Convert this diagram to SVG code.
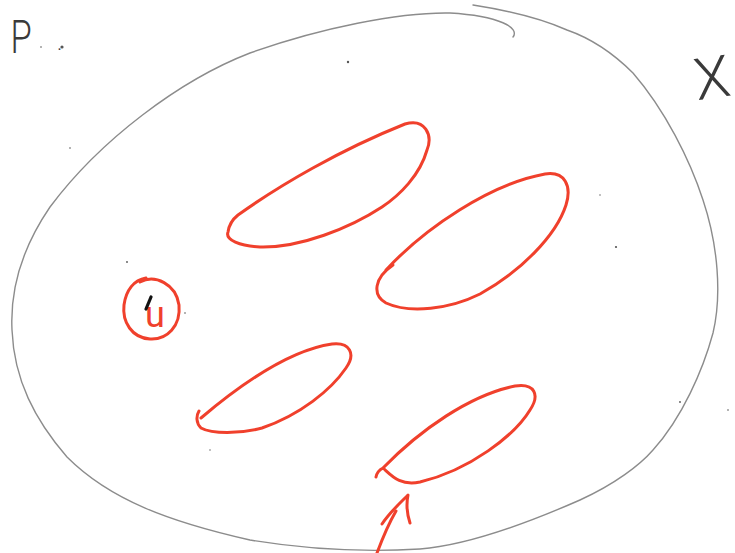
<svg xmlns="http://www.w3.org/2000/svg" width="735" height="553" viewBox="0 0 735 553">
  <style>
    .pencil { fill: none; stroke: #8c8c8c; stroke-width: 1.4; stroke-linecap: round; stroke-linejoin: round; }
    .red { fill: none; stroke: #f0402c; stroke-width: 3; stroke-linecap: round; stroke-linejoin: round; }
    .ink { font-family: Roboto, "Open Sans", "Liberation Sans", sans-serif; font-weight: 300; fill: #3a3a3a; }
    .speck { fill: #555; }
  </style>
  <rect width="735" height="553" fill="#ffffff"/>

  <g id="set-X">
    <path class="pencil" d="M513,37 C520,28 500,16 450,13 C400,12 320,28 250,53 C180,80 100,140 50,207 C22,248 10,290 12,330 C14,380 35,420 67,457 C110,500 170,522 250,540 C310,550 370,552 420,549 C470,545 530,522 580,500 C615,484 640,465 653,450 C682,418 703,370 713,333 C722,295 718,245 703,200 C690,160 665,110 633,73 C612,52 590,38 567,30 C540,18 505,10 473,5"/>
  </g>

  <g id="label-P">
    <text class="ink" x="10" y="53" font-size="46" transform="translate(3,0) scale(0.75,1)">P</text>
    <text class="ink" x="57" y="50" font-size="22">.</text>
  </g>

  <g id="label-X">
    <text class="ink" x="712" y="98" font-size="58" text-anchor="middle" transform="rotate(-8 712 78)">X</text>
  </g>

  <g id="point-u">
    <path class="red" d="M140,282 C155,274 176,284 179,305 C181,326 167,340 150,339 C132,338 122,322 124,305 C126,290 134,280 146,278"/>
    <text x="155" y="327" font-size="36" text-anchor="middle" font-family="Roboto, 'Liberation Sans', sans-serif" font-weight="400" fill="#f0402c">u</text>
    <path d="M151,297 L146,309" stroke="#111" stroke-width="3.2" stroke-linecap="round"/>
  </g>

  <g id="blob-1">
    <path class="red" d="M238,215 C280,185 340,150 405,124 C425,118 433,135 427,150 C420,175 400,195 382,207 C350,228 300,248 260,247 C240,246 225,240 228,232 C229,225 233,219 238,215 Z"/>
  </g>

  <g id="blob-2">
    <path class="red" d="M386,270 C425,228 490,184 545,174 C565,171 572,186 566,205 C556,236 520,272 480,294 C450,309 410,314 386,303 C372,295 374,278 393,265"/>
  </g>

  <g id="blob-3">
    <path class="red" d="M201,418 C240,385 290,350 332,344 C350,342 356,354 346,368 C331,390 300,415 262,428 C240,434 212,434 201,428 C196,423 196,416 199,411"/>
  </g>

  <g id="blob-4">
    <path class="red" d="M376,477 C377,472 379,470 383,468 C420,430 470,395 515,386 C535,383 540,395 530,410 C515,435 470,470 420,482 C400,486 392,476 383,468"/>
  </g>

  <g id="connectors">
    <path class="red" d="M377,553 C383,537 389,523 396,511"/>
    <path class="red" d="M382,524 C390,512 400,503 408,495 C406,505 407,514 410,523"/>
  </g>

  <g id="specks">
    <circle class="speck" cx="62" cy="47" r="1.6"/>
    <circle class="speck" cx="41" cy="47" r="0.8"/>
    <circle class="speck" cx="348" cy="62" r="1.2"/>
    <circle class="speck" cx="70" cy="148" r="0.8"/>
    <circle class="speck" cx="127" cy="262" r="0.9"/>
    <circle class="speck" cx="185" cy="313" r="0.8"/>
    <circle class="speck" cx="616" cy="247" r="1.1"/>
    <circle class="speck" cx="600" cy="195" r="0.7"/>
    <circle class="speck" cx="680" cy="402" r="0.9"/>
    <circle class="speck" cx="728" cy="410" r="0.8"/>
    <circle class="speck" cx="210" cy="450" r="0.7"/>
  </g>
</svg>
